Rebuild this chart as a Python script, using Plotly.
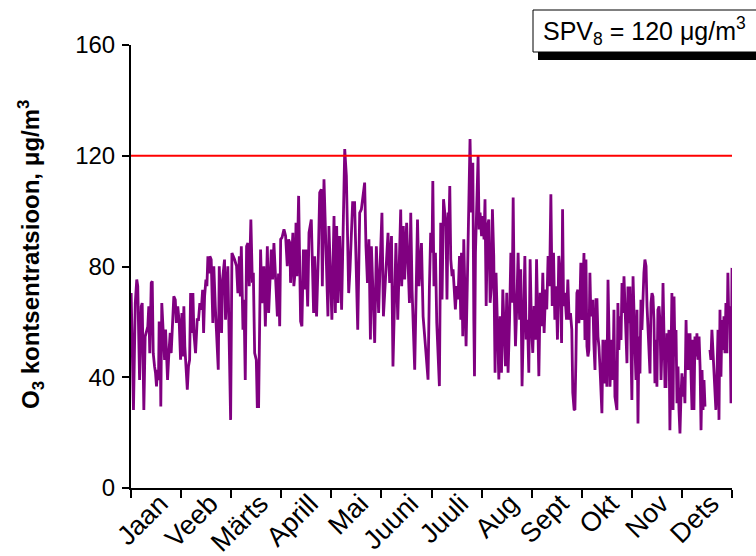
import plotly.graph_objects as go

# ---- data ----
month_labels = ["Jaan", "Veeb", "Märts", "Aprill", "Mai", "Juuni",
                "Juuli", "Aug", "Sept", "Okt", "Nov", "Dets"]
days_in_year = 365
limit_value = 120  # SPV8 target value, µg/m3

day = [
    0.1, 1.5, 2.6, 3.5, 4.1, 5.2, 6.2, 6.8, 7.8, 8.6, 10.2, 10.8, 11.4, 12.3, 12.9, 13.5, 14.3, 14.9, 15.5, 16.1,
    16.7, 17.1, 17.7, 18.1, 18.7, 19.6, 20.4, 21.0, 21.6, 22.2, 23.0, 23.8, 24.4, 25.0, 26.0, 26.9, 27.5, 28.4, 29.3, 30.1,
    30.9, 31.5, 32.1, 32.7, 34.2, 34.9, 35.6, 36.2, 37.0, 37.6, 38.2, 39.2, 40.2, 41.0, 41.8, 42.7, 43.5, 44.1, 44.7, 45.5,
    46.1, 46.7, 47.3, 47.9, 48.7, 49.7, 50.3, 51.2, 52.0, 53.0, 53.6, 54.4, 55.0, 55.6, 56.8, 57.4, 58.8, 60.5, 61.3, 62.9,
    64.1, 64.9, 65.8, 66.4, 67.0, 68.0, 68.6, 69.4, 70.2, 71.0, 71.8, 72.8, 73.7, 74.3, 75.1, 76.1, 76.7, 77.5, 78.1, 78.7,
    79.5, 80.7, 81.6, 82.8, 83.6, 85.2, 86.0, 86.8, 88.9, 89.6,
    90.3, 90.9, 91.7, 92.9, 93.9, 94.9, 95.7, 96.5, 96.9, 97.7, 98.3, 98.9, 99.8, 100.2, 100.8, 101.8, 102.2, 103.0, 103.8, 104.7,
    105.5, 106.2, 107.3, 108.1, 109.5, 110.3, 110.9, 111.5, 112.7, 113.8, 114.6, 115.6, 116.2, 117.2, 119.6, 120.2, 122.0, 123.3, 124.1, 124.9,
    125.7, 126.7, 127.9, 129.8, 130.8, 132.2, 133.0, 134.6, 135.8, 137.7, 138.9, 139.9, 141.9, 142.7, 143.6, 144.5, 145.4, 146.0, 148.0, 149.0,
    150.4, 151.2, 152.4, 153.3, 156.1, 157.1, 158.2, 159.1, 160.2, 160.9, 162.0, 162.8, 163.8, 164.4, 165.4, 166.2, 167.4, 169.1, 169.9, 170.7,
    172.3, 174.0, 174.9, 176.4, 177.4, 179.0, 180.4,
    181.2, 182.0, 182.8, 183.3, 184.0, 184.9, 185.7, 186.5, 187.3, 188.1, 188.9, 189.8, 190.5, 191.3, 191.9, 192.6, 193.0, 193.6, 194.2, 195.0,
    195.6, 196.2, 197.0, 197.8, 198.6, 199.5, 200.3, 200.7, 201.5, 202.1, 202.7, 203.5, 204.3, 204.9, 205.6, 205.9, 206.8, 207.6, 208.2, 208.6,
    209.2, 210.0, 210.8, 211.4, 212.0, 212.9, 213.6, 214.4, 215.0, 215.7, 216.5, 217.3, 218.1, 218.9, 219.5, 220.3, 221.1, 221.7, 222.6, 223.4,
    224.2, 225.0, 225.8, 226.6, 227.4, 228.2, 229.0, 229.9, 230.7, 231.5, 232.1, 232.7, 233.5, 234.3, 235.1, 236.0, 236.7, 237.5, 238.4, 239.2,
    240.0, 240.8, 241.6, 242.4, 243.2, 244.0, 244.8, 245.7, 246.3, 246.9, 247.7, 248.5, 249.3, 250.1, 250.9, 251.8, 252.5, 253.3, 254.2, 255.0,
    255.8, 256.6, 257.4, 258.2, 259.0, 259.8, 260.6, 261.5, 262.1, 262.7, 263.5, 264.5, 265.3, 266.1, 266.9, 267.7, 268.3, 269.1,
    269.6, 270.2, 270.8, 271.4, 272.0, 272.6, 273.2, 273.9, 274.5, 275.1, 275.7, 276.3, 276.9, 277.5, 278.1, 278.7, 279.3, 279.9, 280.5, 281.1,
    281.8, 282.4, 283.0, 283.6, 284.2, 284.8, 285.4, 286.0, 286.6, 287.2, 287.8, 288.4, 289.0, 289.7, 290.3, 290.9, 291.5, 292.1, 292.7, 293.3,
    293.9, 294.5, 295.1, 295.7, 296.3, 296.9, 297.6, 298.2, 298.8, 299.4, 300.0, 300.6, 301.2, 301.8, 302.4, 303.0, 303.6, 304.2, 304.9, 305.5,
    306.1, 306.7, 307.3, 307.9, 308.5, 309.1, 309.7, 310.3, 310.9, 311.5, 312.1, 312.8, 313.4, 314.0, 314.6, 315.2, 315.8, 316.4, 317.0, 317.6,
    318.2, 318.8, 319.4, 320.0, 320.7, 321.3, 321.9, 322.5, 323.1, 323.7, 324.3,
    324.9, 325.5, 326.1, 326.7, 327.3, 327.9, 328.5, 329.2, 329.8, 330.4, 331.0, 331.6, 332.2, 332.8, 333.4, 334.0, 334.6, 335.2, 335.8, 336.4,
    337.1, 337.7, 338.3, 338.9, 339.5, 340.1, 340.7, 341.3, 341.9, 342.5, 343.1, 343.7, 344.3, 345.0, 345.6, 346.2, 346.8, 347.4, 348.0, 348.6,
    349.9,
    351.6, 352.2, 352.8, 353.4, 354.0, 354.6, 355.2, 355.8, 356.5, 357.1, 357.7, 358.3, 358.9, 359.5, 360.1, 360.7, 361.3, 361.9, 362.5, 363.1,
    363.7, 364.4, 364.7, 365.0,
]

o3 = [
    70.4, 28.2, 66.8, 75.3, 72.9, 39.0, 65.6, 66.8, 28.2, 54.7, 58.3, 65.6, 48.7, 74.1, 74.7, 48.7, 43.9, 41.5, 36.7, 42.7,
    39.0, 59.6, 59.6, 29.4, 66.8, 57.2, 46.3, 57.2, 46.3, 39.0, 48.7, 56.0, 48.7, 56.0, 69.2, 68.0, 59.6, 65.6, 59.6, 46.3,
    63.2, 47.5, 65.6, 51.1, 35.5, 43.9, 46.3, 70.4, 56.0, 70.4, 56.0, 48.7, 60.8, 60.8, 66.8, 64.4, 71.6, 56.0, 69.2, 75.3,
    72.9, 83.7, 77.5, 83.7, 82.5, 59.6, 80.1, 65.6, 56.0, 42.7, 80.1, 60.8, 56.0, 75.3, 82.5, 60.8, 80.1, 24.6, 84.9, 82.5,
    80.1, 70.4, 83.7, 69.2, 87.3, 57.2, 68.0, 39.0, 87.3, 88.5, 72.9, 97.0, 74.1, 77.7, 48.7, 46.3, 29.4, 29.4, 58.3, 86.1,
    66.8, 80.1, 58.3, 87.3, 63.2, 86.1, 75.3, 88.5, 62.0, 77.5,
    58.4, 89.8, 90.4, 93.4, 91.0, 80.1, 89.8, 88.5, 74.1, 87.3, 92.2, 72.9, 78.9, 95.8, 76.5, 105.5, 88.5, 60.2, 58.4, 86.1,
    71.7, 86.1, 65.6, 92.2, 97.0, 78.9, 63.2, 83.7, 62.0, 84.9, 106.7, 107.9, 72.9, 111.5, 62.0, 94.6, 60.8, 98.2, 63.2, 94.6,
    66.8, 91.0, 64.4, 122.4, 112.7, 70.4, 78.9, 103.1, 103.1, 57.2, 99.4, 100.6, 110.3, 87.3, 74.1, 89.8, 53.6, 87.3, 52.4, 87.3,
    63.2, 78.9, 99.4, 62.0, 92.2, 74.1, 91.0, 43.9, 76.5, 88.5, 60.8, 83.7, 100.6, 72.9, 94.6, 75.3, 95.8, 66.8, 99.4, 71.7,
    42.7, 97.0, 72.9, 88.5, 62.0, 49.9, 39.1,
    71.7, 92.2, 85.0, 110.9, 72.9, 85.0, 59.6, 50.0, 36.8, 95.8, 68.1, 104.3, 100.7, 94.6, 68.1, 99.5, 91.0, 109.1, 82.6, 76.5,
    79.0, 71.7, 64.5, 72.9, 68.1, 83.8, 60.8, 85.0, 54.8, 89.8, 75.3, 51.2, 75.3, 97.0, 123.5, 126.0, 99.5, 117.5, 60.8, 40.4,
    85.0, 107.9, 119.9, 93.4, 99.5, 91.0, 98.2, 89.8, 104.3, 65.7, 94.6, 97.0, 66.9, 72.9, 100.7, 83.8, 41.6, 77.7, 59.6, 39.2,
    62.0, 41.6, 71.7, 56.0, 44.0, 70.5, 41.6, 60.8, 85.0, 66.9, 104.9, 71.7, 51.2, 65.7, 85.0, 60.8, 79.0, 36.8, 63.2, 83.8,
    53.6, 60.8, 41.6, 82.6, 58.4, 48.8, 65.7, 53.6, 82.6, 56.0, 40.4, 70.5, 58.4, 77.7, 56.0, 71.7, 64.5, 83.8, 72.9, 106.1,
    65.7, 85.0, 60.8, 72.9, 53.6, 83.8, 77.7, 52.4, 100.7, 65.7, 70.5, 60.8, 75.3, 60.8, 63.2, 57.2, 34.4, 28.4,
    28.2, 46.3, 70.4, 71.6, 59.5, 65.6, 81.3, 60.7, 72.8, 84.9, 53.5, 82.5, 51.1, 47.5, 49.9, 77.7, 62.0, 65.6, 68.0, 52.3,
    42.6, 68.0, 68.0, 54.7, 51.1, 43.9, 36.6, 27.0, 53.5, 46.3, 37.8, 53.5, 36.6, 75.2, 49.9, 36.6, 46.3, 53.5, 39.0, 64.4,
    33.0, 30.6, 28.2, 66.8, 49.9, 62.0, 53.5, 74.0, 63.2, 76.5, 66.8, 53.5, 45.1, 72.8, 59.5, 72.8, 54.7, 31.8, 76.5, 57.1,
    49.9, 39.0, 64.4, 23.3, 54.7, 41.4, 68.0, 57.1, 69.2, 77.7, 82.5, 80.1, 65.6, 57.1, 43.9, 41.4, 66.8, 70.4, 69.2, 60.7,
    37.8, 53.5, 36.6, 64.4, 65.6, 59.5, 39.0, 51.1, 74.0, 57.1, 36.6,
    36.6, 55.9, 47.5, 57.1, 20.9, 54.7, 70.4, 28.2, 69.2, 47.5, 57.1, 30.6, 43.9, 28.2, 19.7, 33.0, 41.4, 33.0, 40.2, 30.6,
    60.7, 42.6, 55.9, 42.6, 55.9, 41.4, 28.2, 53.5, 28.2, 54.7, 47.5, 55.9, 46.3, 54.7, 43.9, 20.9, 42.6, 28.2, 39.0, 29.4,
    None,
    49.9, 46.3, 57.1, 49.9, 39.0, 31.8, 28.2, 39.0, 57.1, 24.6, 64.4, 40.2, 60.7, 49.9, 62.0, 48.7, 66.8, 48.7, 77.7, 59.5,
    65.6, 30.6, 45.1, 79.5,
]

# ---- derived axis positions ----
month_len = days_in_year / 12
month_bounds = [k * month_len for k in range(13)]
month_mids = [(k + 0.5) * month_len for k in range(12)]

FONT = "Arial, 'Liberation Sans', sans-serif"

fig = go.Figure()
fig.add_trace(go.Scatter(
    x=day, y=o3, mode="lines",
    line=dict(color="#800080", width=2.8),
    connectgaps=False, showlegend=False, hoverinfo="skip",
))
fig.add_trace(go.Scatter(
    x=[0, days_in_year], y=[limit_value, limit_value], mode="lines",
    line=dict(color="#FF0000", width=2),
    showlegend=False, hoverinfo="skip",
))

W, H = 756, 556
ML, MR, MT, MB = 131, 24, 45, 68
pw, ph = W - ML - MR, H - MT - MB


def px(xp):
    return (xp - ML) / pw


def py(yp):
    return (H - MB - yp) / ph


fig.update_layout(
    width=W, height=H,
    margin=dict(l=ML, r=MR, t=MT, b=MB, pad=0, autoexpand=False),
    paper_bgcolor="white", plot_bgcolor="white",
    font=dict(family=FONT, color="black"),
    xaxis=dict(
        range=[0, days_in_year], automargin=False,
        showgrid=False, zeroline=False,
        showline=True, linecolor="black", linewidth=2,
        tickmode="array", tickvals=month_mids, ticktext=month_labels,
        ticks="outside", ticklen=8, tickcolor="rgba(0,0,0,0)",
        ticklabelstandoff=-21, ticklabelshift=4,
        tickangle=-45, tickfont=dict(size=27, family=FONT, color="black"),
        minor=dict(tickmode="array", tickvals=month_bounds, ticks="outside",
                   ticklen=8, tickwidth=2, tickcolor="black", showgrid=False),
    ),
    yaxis=dict(
        range=[0, 160], automargin=False,
        showgrid=False, zeroline=False,
        showline=True, linecolor="black", linewidth=2,
        tickmode="array", tickvals=[0, 40, 80, 120, 160],
        ticks="outside", ticklen=7, tickwidth=2, tickcolor="black",
        ticklabelstandoff=2,
        tickfont=dict(size=24, family=FONT, color="black"),
    ),
    shapes=[
        dict(type="rect", xref="paper", yref="paper",
             x0=px(538), x1=px(770), y0=py(60), y1=py(15),
             fillcolor="black", line=dict(width=0), layer="above"),
        dict(type="rect", xref="paper", yref="paper",
             x0=px(533), x1=px(770), y0=py(52), y1=py(10),
             fillcolor="white", line=dict(color="black", width=1), layer="above"),
    ],
    annotations=[
        dict(text="SPV<sub>8</sub> = 120 μg/m<sup>3</sup>",
             xref="paper", yref="paper", x=px(541), y=py(31),
             xanchor="left", yanchor="middle", showarrow=False,
             font=dict(size=25, family=FONT, color="black")),
        dict(text="<b>O<sub>3</sub> kontsentratsioon, μg/m<sup>3</sup></b>",
             xref="paper", yref="paper", x=px(31), y=py(255),
             xanchor="center", yanchor="middle", textangle=-90, showarrow=False,
             font=dict(size=24, family=FONT, color="black")),
    ],
)

fig.write_html("out.html")
